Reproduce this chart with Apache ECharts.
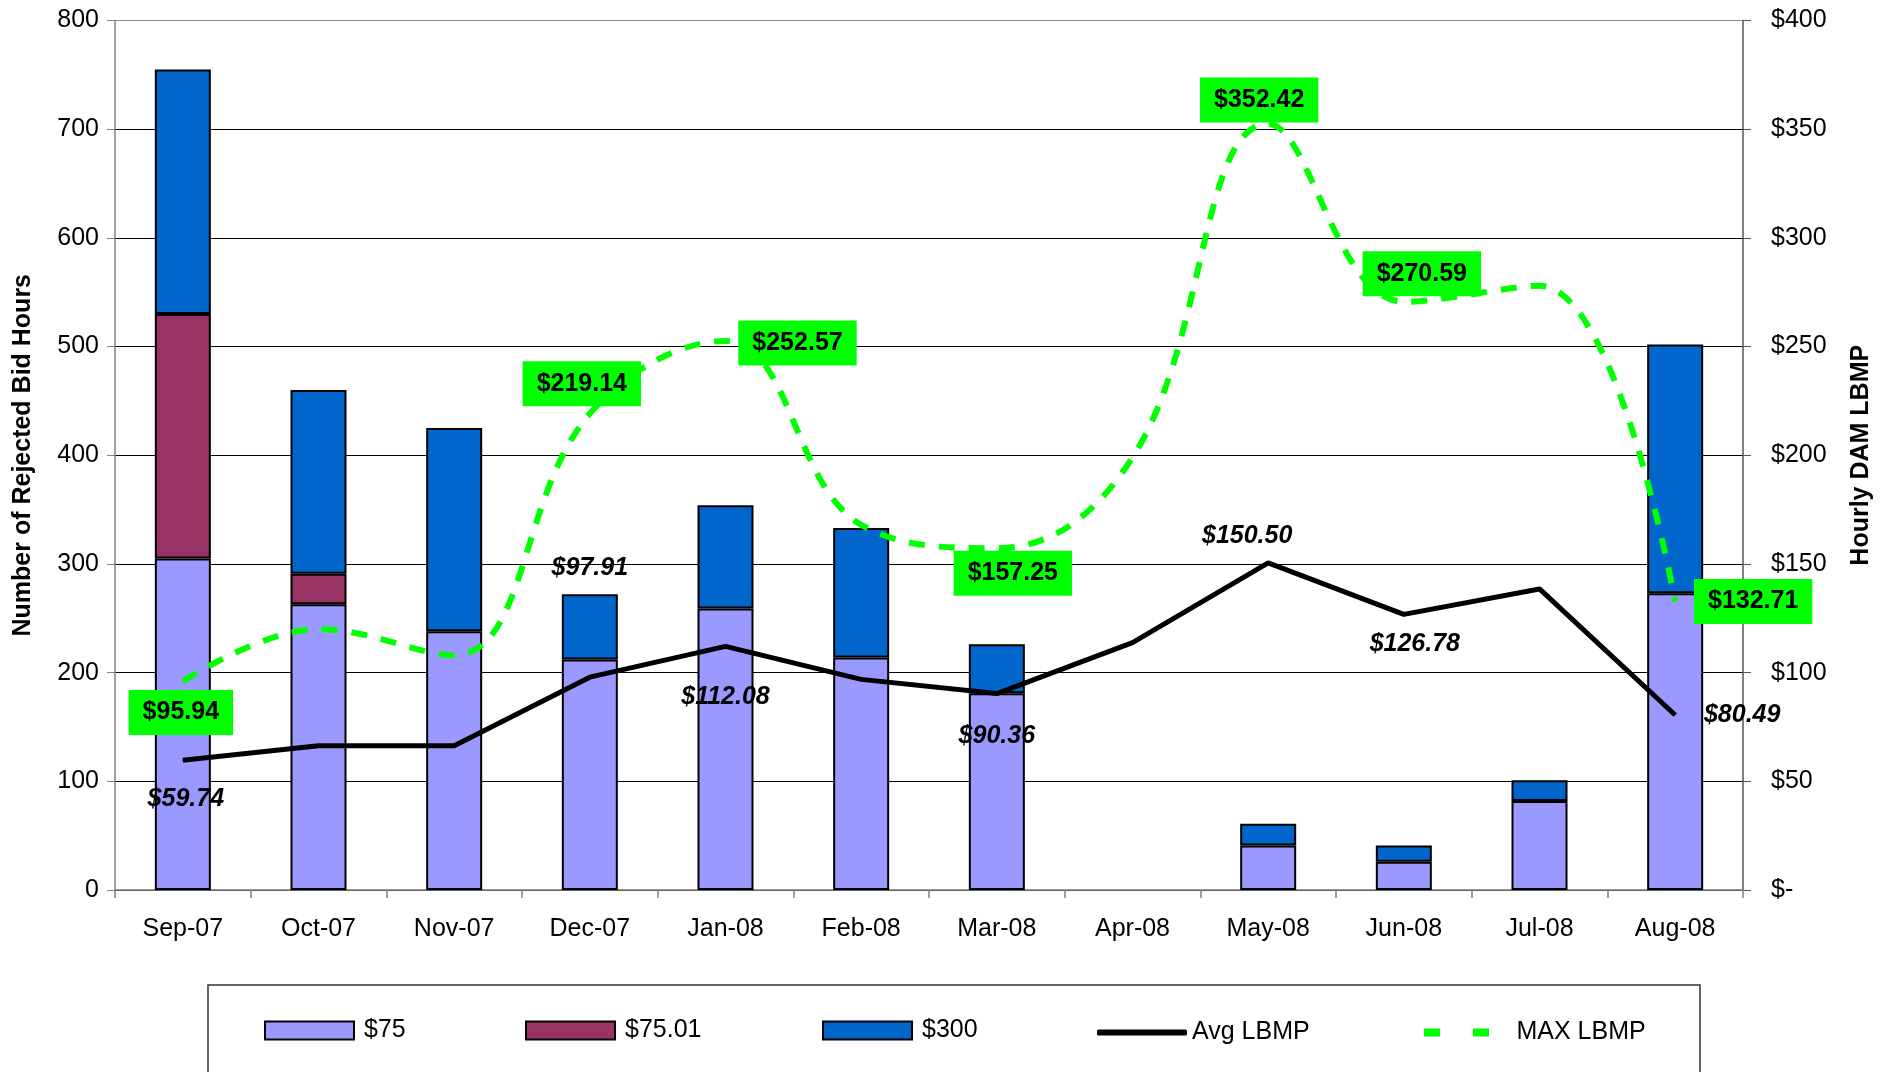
<!DOCTYPE html>
<html>
<head>
<meta charset="utf-8">
<script src="https://cdn.jsdelivr.net/npm/echarts@6/dist/echarts.min.js"></script>
<style>
  html, body { margin: 0; padding: 0; background: #fff; }
  #main { width: 1894px; height: 1072px; }
</style>
</head>
<body>
<div id="main"></div>
<script>
// categories
var months = ['Sep-07', 'Oct-07', 'Nov-07', 'Dec-07', 'Jan-08', 'Feb-08', 'Mar-08', 'Apr-08', 'May-08', 'Jun-08', 'Jul-08', 'Aug-08'];
// rejected bid hours, stacked
var bid75 = [305, 263, 238, 212, 259, 214, 181, 0, 41, 26, 82, 273];
var bid7501 = [225, 28, 0, 0, 0, 0, 0, 0, 0, 0, 0, 0];
var bid300 = [225, 169, 187, 60, 95, 119, 45, 0, 20, 15, 19, 229];
// hourly DAM LBMP ($)
var avgLbmp = [59.74, 66.4, 66.4, 97.91, 112.08, 96.9, 90.36, 113.8, 150.50, 126.78, 138.5, 80.49];
var maxLbmp = [95.94, 120, 108, 219.14, 252.57, 168, 157.25, 199, 352.42, 270.59, 278, 132.71];

var FONT = '"Liberation Sans", Arial, sans-serif';

// where the value labels sit, relative to the point (px)
var avgLabelOffset = { 0: [3, 39], 3: [0, -109], 4: [0, 51], 6: [0, 43], 8: [-21, -27], 9: [11, 30], 11: [67, 0] };
var maxLabelOffset = { 0: [-2, 31], 3: [-8, -30], 4: [72, 2], 6: [16, 25], 8: [-9, -24], 9: [18, -28], 11: [78, 0] };

function money(v) { return '$' + v.toFixed(2); }

function lineData(values, offsets, labelStyle) {
  return values.map(function (v, i) {
    var off = offsets[i];
    if (!off) return { value: v, label: { show: false } };
    return {
      value: v,
      label: Object.assign({ show: true, position: 'inside', offset: off, formatter: function (p) { return money(p.value); } }, labelStyle)
    };
  });
}

function barData(values) {
  return values.map(function (v) { return v === 0 ? '-' : v; });
}

var chart = echarts.init(document.getElementById('main'));

var barBorder = { borderColor: '#000', borderWidth: 2 };

function legendAt(name, left, opts) {
  return Object.assign({
    data: [name],
    left: left,
    top: 1018,
    padding: 0,
    itemWidth: 89,
    itemHeight: 18,
    selectedMode: false,
    textStyle: { fontSize: 25, color: '#000', fontFamily: FONT, padding: [0, 0, 0, 5] }
  }, opts || {});
}

var option = {
  animation: false,
  backgroundColor: '#fff',
  textStyle: { fontFamily: FONT },
  graphic: [{
    type: 'rect',
    shape: { x: 208, y: 985, width: 1492, height: 120 },
    style: { fill: 'none', stroke: '#333', lineWidth: 1.5 },
    silent: true
  }],
  legend: [
    legendAt('$75', 264, { icon: 'rect' }),
    legendAt('$75.01', 525, { icon: 'rect' }),
    legendAt('$300', 822, { icon: 'rect' }),
    legendAt('Avg LBMP', 1097, { icon: 'roundRect', itemWidth: 90, itemHeight: 6, top: 1020, textStyle: { fontSize: 25, color: '#000', fontFamily: FONT, padding: [0, 0, 0, 0] } }),
    legendAt('MAX LBMP', 1424, { icon: 'path://M0,0h16v8h-16z M49,0h16v8h-16z', itemWidth: 66, itemHeight: 8, top: 1020, textStyle: { fontSize: 25, color: '#000', fontFamily: FONT, padding: [0, 0, 0, 22] } })
  ],
  grid: { left: 115, right: 151, top: 20.5, bottom: 182, containLabel: false },
  xAxis: {
    type: 'category',
    data: months,
    boundaryGap: true,
    axisLine: { lineStyle: { color: '#808080', width: 1.5 } },
    axisTick: { show: true, alignWithLabel: false, length: 8, lineStyle: { color: '#808080', width: 1.5 } },
    axisLabel: { fontSize: 25, color: '#000', margin: 27, fontFamily: FONT }
  },
  yAxis: [{
    type: 'value',
    min: 0, max: 800, interval: 100,
    name: 'Number of Rejected Bid Hours',
    nameLocation: 'middle',
    nameGap: 79,
    nameTextStyle: { fontSize: 25, fontWeight: 'bold', color: '#000', fontFamily: FONT },
    axisLine: { show: true, lineStyle: { color: '#808080', width: 1.5 } },
    axisTick: { show: true, length: 8, lineStyle: { color: '#808080' } },
    axisLabel: { fontSize: 25, color: '#000', margin: 16, fontFamily: FONT },
    splitLine: { show: true, lineStyle: { color: ['#000', '#000', '#000', '#000', '#000', '#000', '#000', '#000', '#888'], width: 1 } }
  }, {
    type: 'value',
    min: 0, max: 400, interval: 50,
    position: 'right',
    name: 'Hourly DAM LBMP',
    nameLocation: 'middle',
    nameRotate: 90,
    nameGap: 106,
    nameTextStyle: { fontSize: 25, fontWeight: 'bold', color: '#000', fontFamily: FONT },
    axisLine: { show: true, lineStyle: { color: '#555', width: 1.5 } },
    axisTick: { show: true, length: 8, lineStyle: { color: '#555' } },
    axisLabel: {
      fontSize: 25, color: '#000', margin: 28, fontFamily: FONT,
      formatter: function (v) { return v === 0 ? '$-' : '$' + v; }
    },
    splitLine: { show: false }
  }],
  series: [
    {
      name: '$75', type: 'bar', stack: 'bids', barWidth: 56,
      data: barData(bid75),
      itemStyle: Object.assign({ color: '#9999FF' }, barBorder)
    },
    {
      name: '$75.01', type: 'bar', stack: 'bids', barWidth: 56,
      data: barData(bid7501),
      itemStyle: Object.assign({ color: '#993366' }, barBorder)
    },
    {
      name: '$300', type: 'bar', stack: 'bids', barWidth: 56,
      data: barData(bid300),
      itemStyle: Object.assign({ color: '#0066CC' }, barBorder)
    },
    {
      name: 'Avg LBMP', type: 'line', yAxisIndex: 1,
      symbol: 'circle', symbolSize: 1,
      itemStyle: { color: '#000' },
      lineStyle: { color: '#000', width: 5 },
      data: lineData(avgLbmp, avgLabelOffset, {
        color: '#000', fontSize: 25, fontWeight: 'bold', fontStyle: 'italic', fontFamily: FONT
      }),
      z: 3
    },
    {
      name: 'MAX LBMP', type: 'line', yAxisIndex: 1,
      smooth: 0.4,
      symbol: 'circle', symbolSize: 1,
      itemStyle: { color: '#00FF00' },
      lineStyle: { color: '#00FF00', width: 6, type: [16, 14], cap: 'butt' },
      data: lineData(maxLbmp, maxLabelOffset, {
        color: '#000', fontSize: 25, fontWeight: 'bold', fontFamily: FONT,
        backgroundColor: '#00FF00', padding: [10, 14]
      }),
      z: 4
    }
  ]
};

chart.setOption(option);
</script>
</body>
</html>
